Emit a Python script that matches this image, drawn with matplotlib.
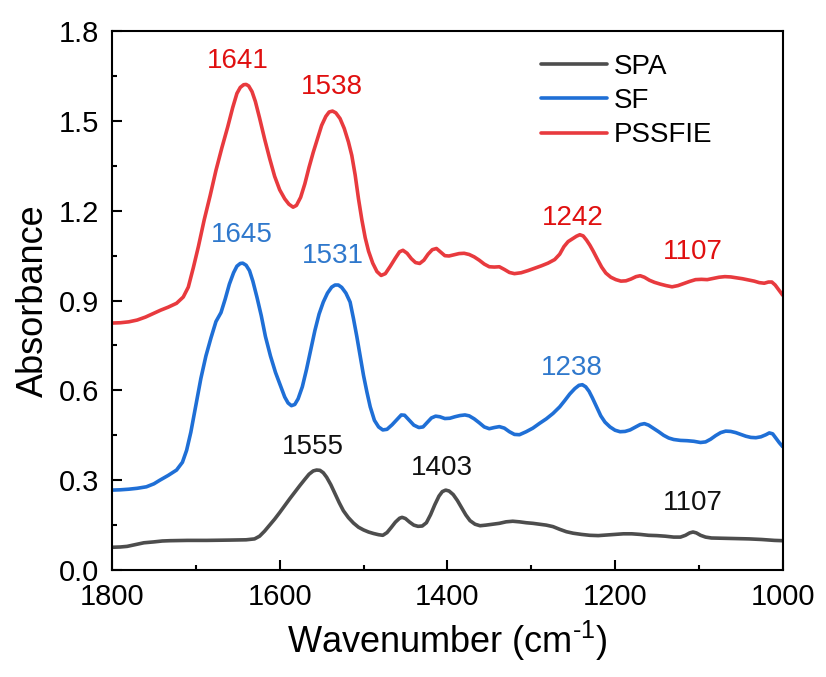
import matplotlib
matplotlib.use("Agg")
import matplotlib.pyplot as plt
from matplotlib.ticker import MultipleLocator

plt.rcParams["font.family"] = ["Liberation Sans", "DejaVu Sans"]
plt.rcParams["mathtext.fontset"] = "custom"
plt.rcParams["mathtext.rm"] = "Liberation Sans"
plt.rcParams["mathtext.it"] = "Liberation Sans:italic"
plt.rcParams["mathtext.bf"] = "Liberation Sans:bold"

# FTIR spectra (absorbance vs. wavenumber, cm-1)
spa_wn = [1800, 1790, 1782, 1772, 1762, 1750, 1740, 1731, 1710, 1687, 1660, 1640,
          1630, 1624, 1618, 1612, 1606, 1600, 1594, 1588, 1582, 1576, 1570, 1565,
          1560, 1556, 1552, 1548, 1544, 1539, 1534, 1529, 1524, 1518, 1512, 1506,
          1500, 1494, 1488, 1482, 1477, 1472, 1467, 1462, 1457, 1454, 1450, 1445,
          1440, 1435, 1430, 1425, 1420, 1415, 1410, 1406, 1402, 1398, 1393, 1388,
          1383, 1378, 1373, 1367, 1361, 1354, 1346, 1338, 1330, 1322, 1314, 1306,
          1298, 1290, 1282, 1274, 1266, 1258, 1250, 1240, 1230, 1220, 1210, 1200,
          1190, 1180, 1170, 1160, 1150, 1140, 1130, 1122, 1116, 1111, 1107, 1103,
          1098, 1092, 1085, 1070, 1055, 1040, 1025, 1010, 1000]
spa_abs = [0.076, 0.077, 0.079, 0.085, 0.091, 0.094, 0.097, 0.098, 0.099, 0.099,
           0.100, 0.101, 0.104, 0.113, 0.130, 0.150, 0.170, 0.192, 0.215, 0.238,
           0.260, 0.282, 0.303, 0.320, 0.331, 0.334, 0.333, 0.325, 0.310, 0.285,
           0.255, 0.225, 0.198, 0.175, 0.157, 0.143, 0.134, 0.127, 0.122, 0.118,
           0.116, 0.125, 0.142, 0.160, 0.173, 0.176, 0.172, 0.160, 0.150, 0.146,
           0.147, 0.158, 0.185, 0.218, 0.247, 0.262, 0.267, 0.264, 0.252, 0.232,
           0.208, 0.184, 0.165, 0.153, 0.148, 0.150, 0.153, 0.156, 0.161, 0.163,
           0.161, 0.158, 0.156, 0.153, 0.150, 0.145, 0.136, 0.128, 0.123, 0.119,
           0.116, 0.115, 0.117, 0.119, 0.121, 0.121, 0.119, 0.116, 0.115, 0.113,
           0.110, 0.110, 0.116, 0.124, 0.127, 0.124, 0.116, 0.110, 0.107, 0.106,
           0.105, 0.104, 0.102, 0.099, 0.098]

sf_wn = [1800, 1790, 1780, 1770, 1759, 1750, 1743, 1733, 1723, 1716, 1711, 1706,
         1700, 1694, 1688, 1682, 1676, 1670, 1665, 1660, 1655, 1651, 1647, 1644,
         1640, 1636, 1632, 1627, 1622, 1617, 1611, 1605, 1599, 1594, 1590, 1586,
         1582, 1578, 1573, 1568, 1563, 1558, 1553, 1548, 1543, 1538, 1534, 1530,
         1526, 1521, 1516, 1512, 1508, 1504, 1500, 1496, 1492, 1487, 1482, 1477,
         1472, 1466, 1460, 1455, 1451, 1446, 1440, 1434, 1429, 1424, 1419, 1414,
         1409, 1403, 1397, 1391, 1385, 1379, 1374, 1368, 1362, 1356, 1350, 1344,
         1338, 1332, 1326, 1320, 1314, 1306, 1298, 1290, 1282, 1274, 1266, 1260,
         1254, 1248, 1243, 1239, 1235, 1231, 1227, 1222, 1217, 1212, 1206, 1200,
         1194, 1188, 1182, 1176, 1170, 1165, 1160, 1154, 1148, 1142, 1136, 1130,
         1122, 1114, 1106, 1098, 1092, 1086, 1080, 1074, 1068, 1062, 1056, 1050,
         1044, 1038, 1032, 1026, 1020, 1016, 1012, 1008, 1004, 1000]
sf_abs = [0.267, 0.268, 0.270, 0.273, 0.278, 0.288, 0.300, 0.316, 0.334, 0.360,
          0.400, 0.460, 0.550, 0.640, 0.715, 0.775, 0.830, 0.860, 0.905, 0.955,
          0.993, 1.015, 1.024, 1.025, 1.018, 1.000, 0.965, 0.910, 0.850, 0.780,
          0.715, 0.660, 0.615, 0.578, 0.558, 0.549, 0.553, 0.572, 0.612, 0.670,
          0.735, 0.800, 0.855, 0.895, 0.925, 0.945, 0.952, 0.952, 0.944, 0.925,
          0.895, 0.840, 0.780, 0.715, 0.650, 0.595, 0.545, 0.500, 0.478, 0.468,
          0.470, 0.485, 0.503, 0.518, 0.517, 0.502, 0.484, 0.476, 0.478, 0.493,
          0.508, 0.514, 0.512, 0.506, 0.507, 0.512, 0.516, 0.518, 0.515, 0.505,
          0.492, 0.478, 0.472, 0.476, 0.479, 0.474, 0.462, 0.453, 0.452, 0.462,
          0.474, 0.490, 0.505, 0.523, 0.545, 0.566, 0.588, 0.606, 0.617, 0.619,
          0.612, 0.597, 0.575, 0.545, 0.515, 0.494, 0.478, 0.467, 0.462, 0.463,
          0.468, 0.477, 0.486, 0.489, 0.484, 0.473, 0.462, 0.450, 0.441, 0.436,
          0.433, 0.432, 0.430, 0.426, 0.428, 0.437, 0.449, 0.459, 0.464, 0.463,
          0.459, 0.453, 0.447, 0.443, 0.442, 0.445, 0.452, 0.458, 0.455, 0.440,
          0.425, 0.412]

pssfie_wn = [1800, 1790, 1780, 1770, 1760, 1750, 1742, 1733, 1723, 1715, 1709, 1703,
             1697, 1690, 1683, 1676, 1669, 1662, 1656, 1651, 1647, 1643, 1640, 1637,
             1633, 1629, 1624, 1618, 1612, 1606, 1600, 1594, 1589, 1584, 1580, 1575,
             1570, 1565, 1560, 1555, 1550, 1545, 1541, 1537, 1533, 1528, 1523, 1518,
             1514, 1510, 1506, 1502, 1498, 1494, 1489, 1484, 1479, 1474, 1468, 1462,
             1457, 1453, 1448, 1443, 1438, 1433, 1428, 1423, 1418, 1413, 1408, 1403,
             1398, 1392, 1386, 1380, 1374, 1368, 1362, 1356, 1350, 1344, 1338, 1332,
             1326, 1320, 1312, 1304, 1296, 1288, 1280, 1272, 1266, 1261, 1256, 1251,
             1246, 1242, 1238, 1234, 1230, 1226, 1221, 1216, 1211, 1205, 1199, 1193,
             1187, 1181, 1175, 1170, 1165, 1159, 1153, 1146, 1139, 1132, 1125, 1118,
             1111, 1104, 1097, 1090, 1083, 1076, 1069, 1062, 1055, 1048, 1041, 1034,
             1028, 1022, 1017, 1013, 1009, 1005, 1000]
pssfie_abs = [0.825, 0.826, 0.829, 0.835, 0.845, 0.858, 0.868, 0.878, 0.891, 0.912,
              0.945, 1.010, 1.080, 1.170, 1.250, 1.335, 1.410, 1.480, 1.545, 1.592,
              1.612, 1.621, 1.622, 1.617, 1.598, 1.565, 1.510, 1.440, 1.375, 1.315,
              1.270, 1.240, 1.222, 1.212, 1.218, 1.245, 1.290, 1.345, 1.395, 1.440,
              1.485, 1.515, 1.530, 1.533, 1.527, 1.508, 1.475, 1.430, 1.385, 1.320,
              1.240, 1.170, 1.110, 1.065, 1.025, 0.997, 0.984, 0.990, 1.015, 1.042,
              1.063, 1.068, 1.058, 1.040, 1.027, 1.024, 1.035, 1.055, 1.070, 1.074,
              1.062, 1.050, 1.049, 1.053, 1.057, 1.058, 1.054, 1.046, 1.035, 1.022,
              1.013, 1.012, 1.013, 1.004, 0.994, 0.990, 0.993, 1.000, 1.008, 1.016,
              1.025, 1.037, 1.055, 1.080, 1.097, 1.106, 1.115, 1.120, 1.116, 1.102,
              1.085, 1.065, 1.038, 1.012, 0.992, 0.978, 0.970, 0.965, 0.966, 0.972,
              0.980, 0.983, 0.978, 0.968, 0.961, 0.955, 0.950, 0.946, 0.950, 0.957,
              0.964, 0.970, 0.971, 0.970, 0.974, 0.978, 0.980, 0.979, 0.976, 0.973,
              0.969, 0.965, 0.960, 0.958, 0.962, 0.962, 0.952, 0.937, 0.918]

series_names = ["SPA", "SF", "PSSFIE"]

# peak annotations: (text, x, y)
spa_peaks = [("1555", 1560, 0.412), ("1403", 1407, 0.340), ("1107", 1107, 0.223)]
sf_peaks = [("1645", 1645, 1.119), ("1531", 1537, 1.049), ("1238", 1252, 0.676)]
pssfie_peaks = [("1641", 1650, 1.700), ("1538", 1538, 1.612),
                ("1242", 1250, 1.176), ("1107", 1107, 1.063)]

line_colors = ["#4d4d4d", "#1f6fd6", "#e83a3e"]
label_colors = ["#111111", "#2f78cc", "#e01010"]

fig = plt.figure(figsize=(8.26, 6.77), dpi=100)
ax = fig.add_axes([0.1356, 0.158, 0.812, 0.796])

for wn, ab, name, c in zip([spa_wn, sf_wn, pssfie_wn],
                           [spa_abs, sf_abs, pssfie_abs],
                           series_names, line_colors):
    ax.plot(wn, ab, color=c, lw=2.6, label=name,
            solid_joinstyle="round", solid_capstyle="round")

for peaks, c in zip([spa_peaks, sf_peaks, pssfie_peaks], label_colors):
    for txt, x, y in peaks:
        ax.text(x, y, txt, color=c, fontsize=20, ha="center", va="center")

ax.set_xlim(1800, 1000)
ax.set_ylim(0, 1.8)
ax.xaxis.set_major_locator(MultipleLocator(200))
ax.xaxis.set_minor_locator(MultipleLocator(100))
ax.yaxis.set_major_locator(MultipleLocator(0.3))
ax.yaxis.set_minor_locator(MultipleLocator(0.15))
ax.yaxis.set_major_formatter(plt.FuncFormatter(lambda v, p: f"{v:.1f}"))

ax.tick_params(which="both", direction="in", width=1.5, labelsize=21,
               top=False, right=False)
ax.tick_params(which="major", length=7)
ax.tick_params(which="minor", length=3.6)
ax.tick_params(axis="x", pad=9)
ax.tick_params(axis="y", pad=9)
for s in ax.spines.values():
    s.set_linewidth(1.5)

ax.set_xlabel(r"Wavenumber (cm$^{\text{-}1}$)", fontsize=26, labelpad=6)
ax.set_ylabel("Absorbance", fontsize=26, labelpad=6)

leg = ax.legend(loc="upper left", bbox_to_anchor=(0.64, 0.958), frameon=False,
                fontsize=20, handlelength=2.35, handletextpad=0.25,
                labelspacing=0.3, borderpad=0, borderaxespad=0)
for h in leg.get_lines():
    h.set_linewidth(2.6)

fig.savefig("out.png", dpi=100)
